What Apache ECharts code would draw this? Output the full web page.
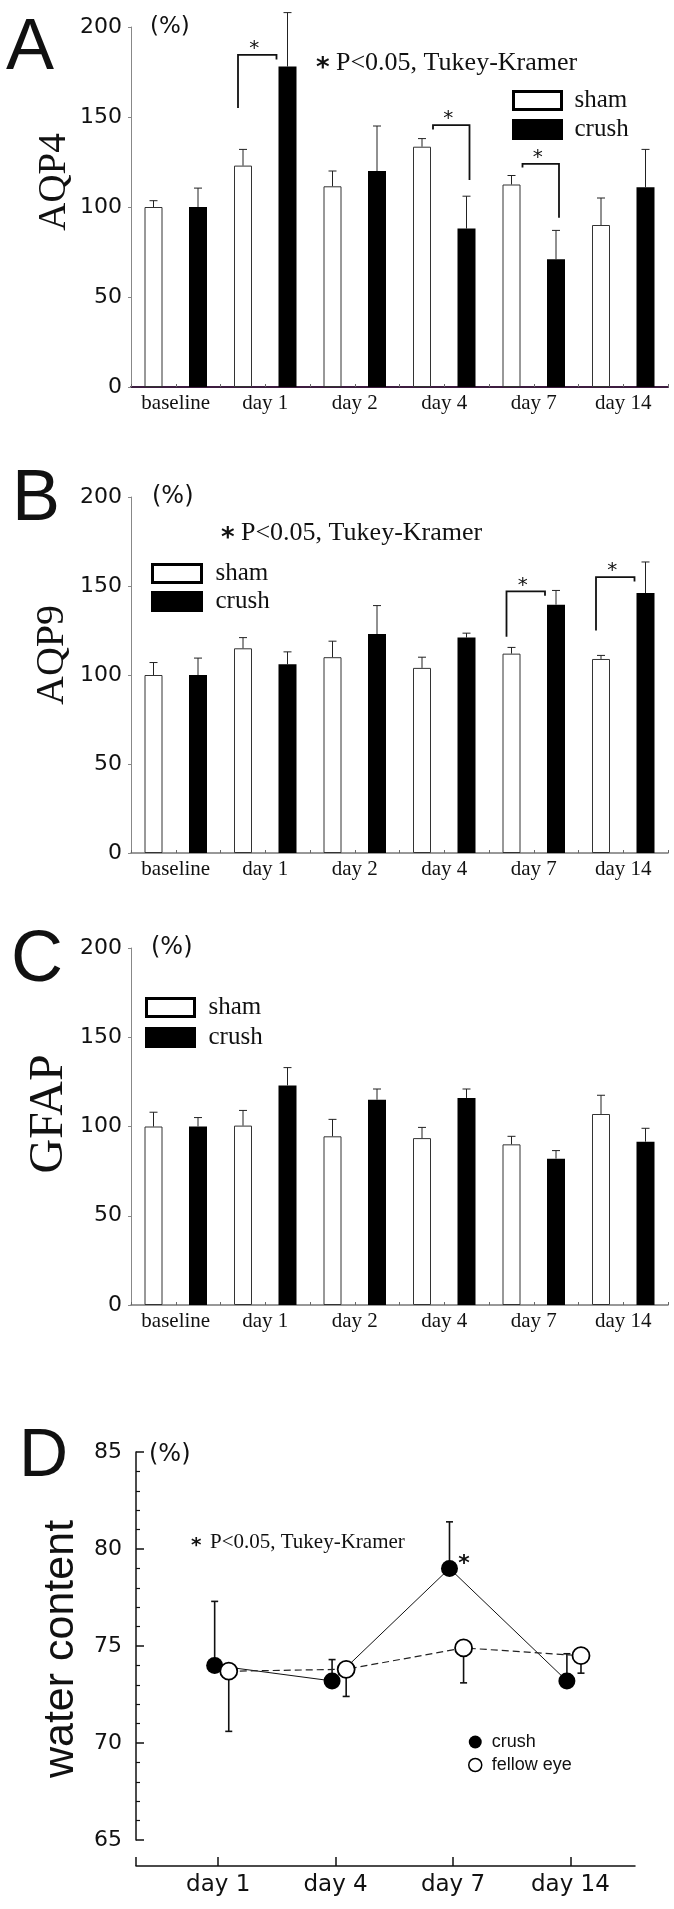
<!DOCTYPE html>
<html>
<head>
<meta charset="utf-8">
<script src="https://cdn.jsdelivr.net/npm/echarts@6.0.0/dist/echarts.min.js"></script>
<style>
  html, body { margin: 0; padding: 0; background: #fff; }
  #chart { width: 674px; height: 1909px; }
</style>
</head>
<body>
<div id="chart"></div>
<script>
// ---------------- DATA ----------------
const barCats = ['baseline', 'day 1', 'day 2', 'day 4', 'day 7', 'day 14'];
const barYTicks = [0, 50, 100, 150, 200];

const aqp4Sham = [100, 123, 111.5, 133.5, 112.5, 90];
const aqp4ShamErr = [3.5, 9, 8.5, 4.5, 5, 15];
const aqp4Crush = [100, 178, 120, 88, 71, 111];
const aqp4CrushErr = [10.5, 30, 25, 18, 16, 21];
const aqp4SigCats = ['day 1', 'day 4', 'day 7'];
const aqp4SigTop = [184.5, 145.5, 124];
const aqp4SigLeftEnd = [155, 143, 122];
const aqp4SigRightEnd = [182, 115, 94];

const aqp9Sham = [100, 115, 110, 104, 112, 109];
const aqp9ShamErr = [7, 6, 9, 6, 3.5, 2];
const aqp9Crush = [100, 106, 123, 121, 139.5, 146];
const aqp9CrushErr = [9.5, 7, 16, 2.5, 8, 17.5];
const aqp9SigCats = ['day 7', 'day 14'];
const aqp9SigTop = [147, 155];
const aqp9SigLeftEnd = [121.5, 125];
const aqp9SigRightEnd = [144.5, 152.5];

const gfapSham = [100, 100.5, 94.5, 93.5, 90, 107];
const gfapShamErr = [8, 8.5, 9.5, 6, 4.5, 10.5];
const gfapCrush = [100, 123, 115, 116, 82, 91.5];
const gfapCrushErr = [5, 10, 6, 5, 4.5, 7.5];

const waterCats = ['day 1', 'day 4', 'day 7', 'day 14'];
const waterYTicks = [65, 70, 75, 80, 85];
const waterCrush = [74.0, 73.2, 79.0, 73.2];
const waterCrushErr = [3.3, 1.1, 2.4, 1.4];
const waterFellow = [73.7, 73.8, 74.9, 74.5];
const waterFellowErr = [3.1, 1.4, 1.8, 0.9];
const waterSigCats = ['day 7'];

const sigNote = 'P<0.05, Tukey-Kramer';

// ---------------- STYLE CONSTANTS ----------------
const BAR_W = 18, BAR_GAP = 26.5, OFF = (BAR_W + BAR_GAP) / 2, CAP = 8;
const SERIF = '"Liberation Serif", "Times New Roman", serif';
const SANS = '"Liberation Sans", Arial, sans-serif';
const DSANS = '"DejaVu Sans", sans-serif';

const chart = echarts.init(document.getElementById('chart'), null, { renderer: 'canvas' });

function barErrRender(sign) {
  return function (params, api) {
    const ci = api.value(0), v = api.value(1), e = api.value(2);
    const p0 = api.coord([ci, v]);
    const p1 = api.coord([ci, v + e]);
    const x = p0[0] + sign * OFF;
    return {
      type: 'group',
      children: [
        { type: 'line', shape: { x1: x, y1: p0[1], x2: x, y2: p1[1] }, style: { stroke: '#222', lineWidth: 1 } },
        { type: 'line', shape: { x1: x - CAP / 2, y1: p1[1], x2: x + CAP / 2, y2: p1[1] }, style: { stroke: '#222', lineWidth: 1 } }
      ]
    };
  };
}

function bracketRender(params, api) {
  const ci = api.value(0), top = api.value(1), le = api.value(2), re = api.value(3);
  const pc = api.coord([ci, top]);
  const yT = pc[1], yL = api.coord([ci, le])[1], yR = api.coord([ci, re])[1];
  const xs = pc[0] - OFF, xc = pc[0] + OFF;
  let xl, xr;
  if (le < re) { xl = xs - 5; xr = xc - BAR_W / 2 - 2; }
  else { xl = xs + BAR_W / 2 + 2; xr = xc + 3; }
  return {
    type: 'group',
    children: [
      { type: 'polyline', shape: { points: [[xl, yL], [xl, yT], [xr, yT], [xr, yR]] },
        style: { stroke: '#111', lineWidth: 1.8, fill: 'none' } },
      { type: 'text', x: (xl + xr) / 2 - 3, y: yT - 11 + 5,
        style: { text: '*', font: '20px ' + DSANS, fill: '#111', align: 'center', verticalAlign: 'middle' } }
    ]
  };
}

const barPanels = [
  { sham: aqp4Sham, shamErr: aqp4ShamErr, crush: aqp4Crush, crushErr: aqp4CrushErr,
    sigCats: aqp4SigCats, sigTop: aqp4SigTop, sigL: aqp4SigLeftEnd, sigR: aqp4SigRightEnd,
    top: 27, height: 360, axisColor: '#3d1d40', axisWidth: 2,
    legend: { left: 512, top: 88, itemWidth: 48, itemGap: 4, pad: 8 } },
  { sham: aqp9Sham, shamErr: aqp9ShamErr, crush: aqp9Crush, crushErr: aqp9CrushErr,
    sigCats: aqp9SigCats, sigTop: aqp9SigTop, sigL: aqp9SigLeftEnd, sigR: aqp9SigRightEnd,
    top: 497, height: 356, axisColor: '#777', axisWidth: 1.5,
    legend: { left: 151, top: 561, itemWidth: 49, itemGap: 3, pad: 9 } },
  { sham: gfapSham, shamErr: gfapShamErr, crush: gfapCrush, crushErr: gfapCrushErr,
    sigCats: [], sigTop: [], sigL: [], sigR: [],
    top: 948, height: 357, axisColor: '#777', axisWidth: 1.5,
    legend: { left: 145, top: 995, itemWidth: 48, itemGap: 5, pad: 9 } }
];

const grid = [], xAxis = [], yAxis = [], series = [], legend = [];

barPanels.forEach(function (p, gi) {
  grid.push({ left: 131, top: p.top, width: 537, height: p.height });
  const xMain = xAxis.length;
  xAxis.push({
    type: 'category', gridIndex: gi, position: 'bottom', data: barCats, boundaryGap: true,
    axisLine: { show: true, lineStyle: { color: p.axisColor, width: p.axisWidth } },
    axisTick: { show: true, inside: true, length: 3, interval: 0, lineStyle: { color: '#666' } },
    axisLabel: { interval: 0, margin: 6, fontFamily: SERIF, fontSize: 21, color: '#111' },
    splitLine: { show: false }
  });
  xAxis.push({
    type: 'category', gridIndex: gi, position: 'bottom', data: barCats, boundaryGap: true,
    axisLine: { show: false },
    axisTick: { show: true, inside: true, length: 3, interval: 0, alignWithLabel: true, lineStyle: { color: '#666' } },
    axisLabel: { show: false }, splitLine: { show: false }
  });
  const yi = yAxis.length;
  yAxis.push({
    type: 'value', gridIndex: gi,
    min: barYTicks[0], max: barYTicks[barYTicks.length - 1], interval: barYTicks[1] - barYTicks[0],
    axisLine: { show: true, lineStyle: { color: '#888', width: 1 } },
    axisTick: { show: true, inside: false, length: 3, lineStyle: { color: '#888' } },
    axisLabel: { margin: 9, fontFamily: DSANS, fontSize: 22, color: '#111' },
    splitLine: { show: false }
  });
  series.push({
    name: 'sham', type: 'bar', xAxisIndex: xMain, yAxisIndex: yi, data: p.sham,
    barWidth: BAR_W, barGap: (BAR_GAP / BAR_W * 100) + '%',
    itemStyle: { color: '#fff', borderColor: '#333', borderWidth: 1 }, z: 2
  });
  series.push({
    name: 'crush', type: 'bar', xAxisIndex: xMain, yAxisIndex: yi, data: p.crush,
    barWidth: BAR_W, barGap: (BAR_GAP / BAR_W * 100) + '%',
    itemStyle: { color: '#000', borderColor: '#000', borderWidth: 0 }, z: 2
  });
  series.push({
    type: 'custom', name: 'shamErr' + gi, xAxisIndex: xMain, yAxisIndex: yi, clip: false, z: 3,
    renderItem: barErrRender(-1), encode: { x: 0, y: 1 },
    data: barCats.map(function (c, i) { return [i, p.sham[i], p.shamErr[i]]; })
  });
  series.push({
    type: 'custom', name: 'crushErr' + gi, xAxisIndex: xMain, yAxisIndex: yi, clip: false, z: 3,
    renderItem: barErrRender(1), encode: { x: 0, y: 1 },
    data: barCats.map(function (c, i) { return [i, p.crush[i], p.crushErr[i]]; })
  });
  if (p.sigCats.length) {
    series.push({
      type: 'custom', name: 'sig' + gi, xAxisIndex: xMain, yAxisIndex: yi, clip: false, z: 4,
      renderItem: bracketRender, encode: { x: 0, y: 1 },
      data: p.sigCats.map(function (c, i) { return [barCats.indexOf(c), p.sigTop[i], p.sigL[i], p.sigR[i]]; })
    });
  }
  legend.push({
    data: [
      { name: 'sham', itemStyle: { color: '#fff', borderColor: '#000', borderWidth: 3 } },
      { name: 'crush', itemStyle: { color: '#000', borderColor: '#000', borderWidth: 3 } }
    ],
    orient: 'vertical', left: p.legend.left, top: p.legend.top, padding: 0,
    icon: 'rect', itemWidth: p.legend.itemWidth, itemHeight: 18, itemGap: p.legend.itemGap,
    selectedMode: false,
    textStyle: { fontFamily: SERIF, fontSize: 25, color: '#111', padding: [0, 0, 0, p.legend.pad] }
  });
});

// ---------------- Panel D ----------------
const D_MIN = 0.3, D_MAX = 4.55, CRUSH_SHIFT = 0.03, FELLOW_SHIFT = -0.09;
grid.push({ left: 136, top: 1452, width: 499, height: 388 });   // grid 3
grid.push({ left: 136, top: 1826, width: 499, height: 40 });    // grid 4
const xCrush = xAxis.length;
xAxis.push({ type: 'value', gridIndex: 3, position: 'bottom', show: false, min: D_MIN + CRUSH_SHIFT, max: D_MAX + CRUSH_SHIFT });
const xFellow = xAxis.length;
xAxis.push({ type: 'value', gridIndex: 3, position: 'bottom', show: false, min: D_MIN + FELLOW_SHIFT, max: D_MAX + FELLOW_SHIFT });
xAxis.push({
  type: 'value', gridIndex: 4, position: 'bottom', min: D_MIN, max: D_MAX,
  axisLine: { show: true, lineStyle: { color: '#111', width: 1.5 } },
  axisTick: { show: true, inside: true, length: 9, lineStyle: { color: '#111', width: 1.5 },
              customValues: [D_MIN].concat(waterCats.map(function (c, i) { return i + 1; })) },
  axisLabel: { show: true, margin: 8, fontFamily: DSANS, fontSize: 23, color: '#111',
               customValues: waterCats.map(function (c, i) { return i + 1; }),
               formatter: function (v) { return waterCats[Math.round(v) - 1] || ''; } },
  splitLine: { show: false }
});
const yD = yAxis.length;
yAxis.push({
  type: 'value', gridIndex: 3, min: waterYTicks[0], max: waterYTicks[waterYTicks.length - 1],
  interval: waterYTicks[1] - waterYTicks[0],
  axisLine: { show: true, lineStyle: { color: '#111', width: 1.5 } },
  axisTick: { show: true, inside: true, length: 8, lineStyle: { color: '#111', width: 1.5 } },
  minorTick: { show: true, splitNumber: 5, length: 4, lineStyle: { color: '#111', width: 1.2 } },
  axisLabel: { margin: 14, fontFamily: DSANS, fontSize: 22, color: '#111' },
  splitLine: { show: false }
});
yAxis.push({ type: 'value', gridIndex: 4, show: false, min: 0, max: 1 });

function pointErrRender(sign) {
  return function (params, api) {
    const x = api.value(0), v = api.value(1), e = api.value(2);
    const p0 = api.coord([x, v]);
    const p1 = api.coord([x, v + sign * e]);
    return {
      type: 'group',
      children: [
        { type: 'line', shape: { x1: p0[0], y1: p0[1], x2: p0[0], y2: p1[1] }, style: { stroke: '#111', lineWidth: 1.6 } },
        { type: 'line', shape: { x1: p0[0] - 3.5, y1: p1[1], x2: p0[0] + 3.5, y2: p1[1] }, style: { stroke: '#111', lineWidth: 1.6 } }
      ]
    };
  };
}

series.push({
  type: 'custom', name: 'crushErrD', xAxisIndex: xCrush, yAxisIndex: yD, clip: false, z: 1,
  renderItem: pointErrRender(1), encode: { x: 0, y: 1 },
  data: waterCats.map(function (c, i) { return [i + 1, waterCrush[i], waterCrushErr[i]]; })
});
series.push({
  type: 'custom', name: 'fellowErrD', xAxisIndex: xFellow, yAxisIndex: yD, clip: false, z: 1,
  renderItem: pointErrRender(-1), encode: { x: 0, y: 1 },
  data: waterCats.map(function (c, i) { return [i + 1, waterFellow[i], waterFellowErr[i]]; })
});
series.push({
  name: 'crush', type: 'line', xAxisIndex: xCrush, yAxisIndex: yD, z: 3,
  data: waterCats.map(function (c, i) { return [i + 1, waterCrush[i]]; }),
  symbol: 'circle', symbolSize: 17,
  itemStyle: { color: '#000' }, lineStyle: { color: '#111', width: 1 }
});
series.push({
  name: 'fellow eye', type: 'line', xAxisIndex: xFellow, yAxisIndex: yD, z: 4,
  data: waterCats.map(function (c, i) { return [i + 1, waterFellow[i]]; }),
  symbol: 'circle', symbolSize: 17,
  itemStyle: { color: '#fff', borderColor: '#000', borderWidth: 1.8 },
  lineStyle: { color: '#222', width: 1.2, type: [7, 4] }
});
series.push({
  type: 'custom', name: 'sigD', xAxisIndex: xCrush, yAxisIndex: yD, clip: false, z: 5,
  encode: { x: 0, y: 1 },
  renderItem: function (params, api) {
    const p = api.coord([api.value(0), api.value(1)]);
    return { type: 'text', x: p[0] + 14.5, y: p[1] - 10 + 5.5,
      style: { text: '*', font: 'bold 22px ' + DSANS, fill: '#111', align: 'center', verticalAlign: 'middle' } };
  },
  data: waterSigCats.map(function (c) { const i = waterCats.indexOf(c); return [i + 1, waterCrush[i]]; })
});
legend.push({
  data: [
    { name: 'crush', itemStyle: { color: '#000', borderWidth: 0 } },
    { name: 'fellow eye', itemStyle: { color: '#fff', borderColor: '#000', borderWidth: 1.5 } }
  ],
  orient: 'vertical', left: 468, top: 1733, padding: 0, icon: 'circle',
  itemWidth: 13, itemHeight: 13, itemGap: 5, selectedMode: false,
  textStyle: { fontFamily: SANS, fontSize: 18, color: '#111', padding: [0, 0, 0, 5] }
});

// ---------------- Text annotations ----------------
function txt(text, x, y, font, extra) {
  const o = { type: 'text', x: x, y: y, silent: true,
    style: { text: text, font: font, fill: '#111', align: 'left', textAlign: 'left', verticalAlign: 'middle', textVerticalAlign: 'middle' } };
  if (extra) {
    if (extra.align) { o.style.align = extra.align; o.style.textAlign = extra.align; }
    if (extra.rotation) o.rotation = extra.rotation;
  }
  return o;
}
const graphic = [
  txt('A', 6, 49, '72px ' + SANS),
  txt('B', 12, 500, '72px ' + SANS),
  txt('C', 11, 961, '72px ' + SANS),
  txt('D', 19, 1457.5, '68px ' + SANS),
  txt('(%)', 150, 27, '23px ' + DSANS),
  txt('(%)', 152, 497, '24px ' + DSANS),
  txt('(%)', 151, 948, '24px ' + DSANS),
  txt('(%)', 149, 1455, '24px ' + DSANS),
  txt('*', 316, 69, 'bold 26px ' + DSANS),
  txt(sigNote, 336, 63, '26px ' + SERIF),
  txt('*', 221, 539, 'bold 26px ' + DSANS),
  txt(sigNote, 241, 533, '26px ' + SERIF),
  txt('*', 191, 1546, 'bold 20px ' + DSANS),
  txt(sigNote, 210, 1542, '21px ' + SERIF),
  txt('AQP4', 55, 182, '39px ' + SERIF, { align: 'center', rotation: Math.PI / 2 }),
  txt('AQP9', 52, 655, '40px ' + SERIF, { align: 'center', rotation: Math.PI / 2 }),
  txt('GFAP', 49, 1114, '48px ' + SERIF, { align: 'center', rotation: Math.PI / 2 }),
  txt('water content', 61, 1649, '43px ' + SANS, { align: 'center', rotation: Math.PI / 2 })
];

chart.setOption({
  animation: false,
  backgroundColor: '#fff',
  grid: grid, xAxis: xAxis, yAxis: yAxis, series: series, legend: legend, graphic: graphic
});
</script>
</body>
</html>
